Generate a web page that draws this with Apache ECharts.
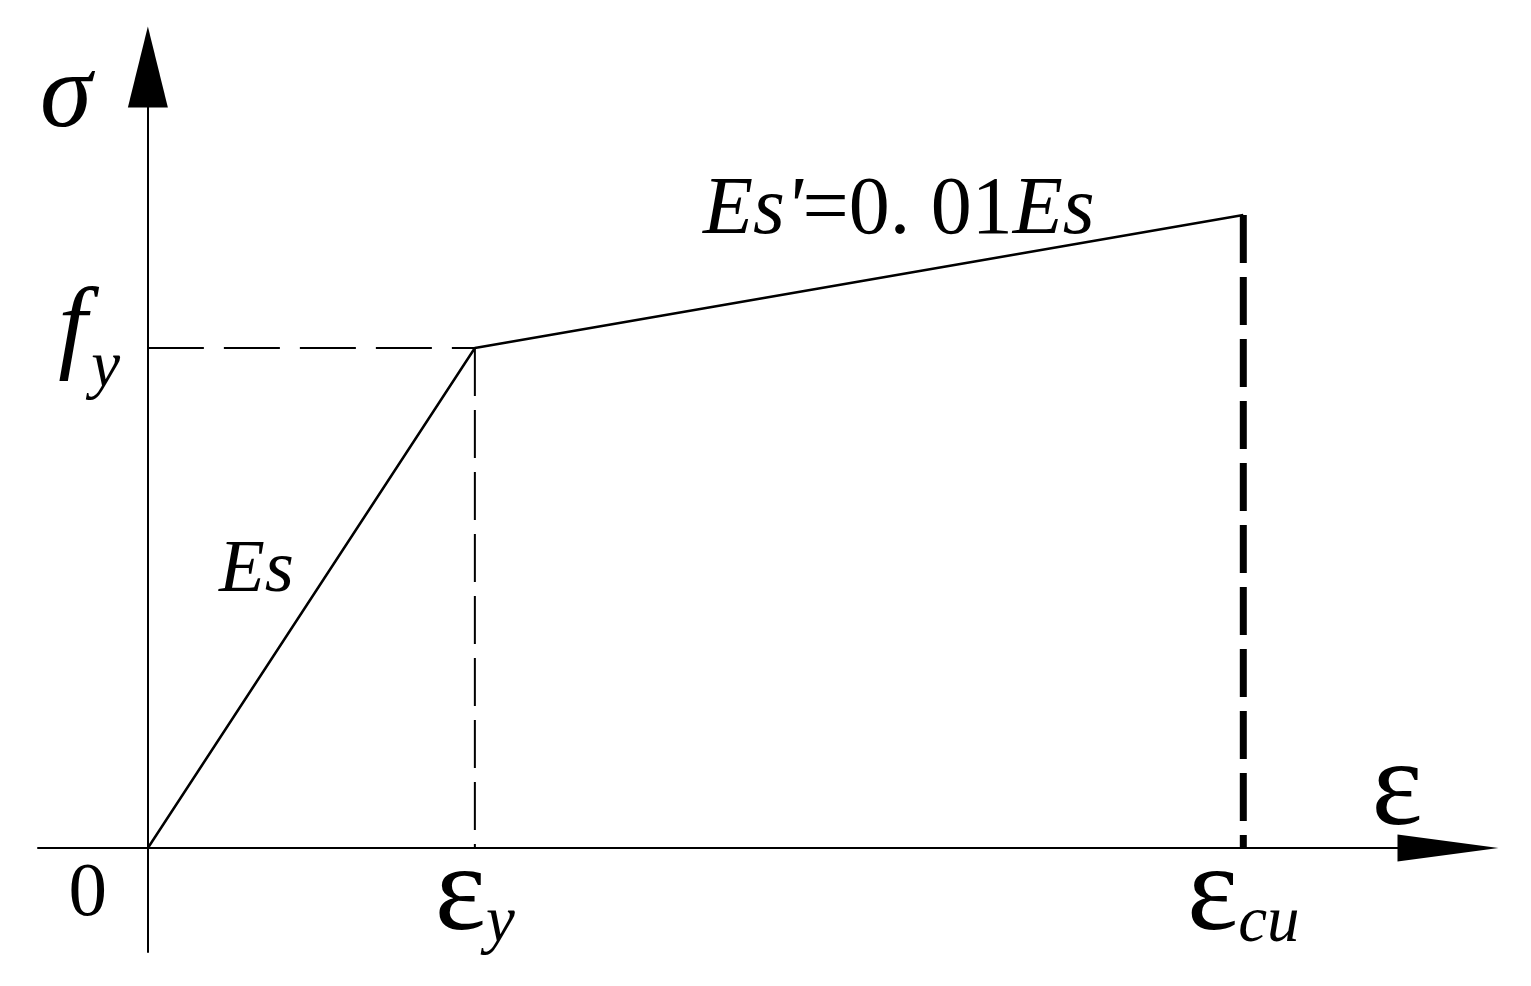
<!DOCTYPE html>
<html>
<head>
<meta charset="utf-8">
<script src="https://cdn.jsdelivr.net/npm/echarts@6/dist/echarts.min.js"></script>
<style>
  html, body { margin: 0; padding: 0; background: #fff; }
  #main { width: 1531px; height: 986px; }
</style>
</head>
<body>
<div id="main"></div>
<script>
// bilinear steel model, normalised units (eps_y = 1, fy = 1)
var strain = [0, 1.0, 3.35];
var stress = [0, 1.0, 1.266];

// tick labels: main symbol + subscript
var xTickMain = ['0', 'ε', 'ε'];
var xTickSub = ['', 'y', 'cu'];
var yTickValues = [stress[1]];
var yTickMain = ['f'];
var yTickSub = ['y'];

var serif = '"Liberation Serif", "Times New Roman", serif';

var myChart = echarts.init(document.getElementById('main'));

function pts(list) {
    return list.map(function (i) { return [strain[i], stress[i]]; });
}

var option = {
    backgroundColor: '#fff',
    animation: false,
    grid: {
        left: 38, right: 83, top: 67, bottom: 34,
        containLabel: false,
        outerBoundsMode: 'none'
    },
    xAxis: {
        type: 'value',
        min: -0.336, max: 3.976,
        splitLine: { show: false },
        axisTick: { show: false },
        axisLine: {
            onZero: true,
            lineStyle: { color: '#000', width: 2 },
            symbol: ['none', 'triangle'],
            symbolSize: [27, 101]
        },
        axisLabel: {
            customValues: strain,
            margin: -87,
            color: '#000',
            formatter: function (v) {
                var i = strain.indexOf(v);
                if (i < 0) return '';
                if (!xTickSub[i]) return '{z|' + xTickMain[i] + '}';
                return '{e|' + xTickMain[i] + '}{s|' + xTickSub[i] + '}';
            },
            rich: {
                z: { fontFamily: serif, fontSize: 77, lineHeight: 60, color: '#000', padding: [0, 120, 0, 0] },
                e: { fontFamily: serif, fontSize: 122, lineHeight: 60, color: '#000', padding: [4, 0, 0, 0] },
                s: { fontFamily: serif, fontSize: 65, fontStyle: 'italic', lineHeight: 60, color: '#000', padding: [58, 0, 0, 0] }
            }
        }
    },
    yAxis: {
        type: 'value',
        min: -0.208, max: 1.562,
        splitLine: { show: false },
        axisTick: { show: false },
        axisLine: {
            onZero: true,
            lineStyle: { color: '#000', width: 2 },
            symbol: ['none', 'triangle'],
            symbolSize: [40, 81]
        },
        axisLabel: {
            customValues: yTickValues,
            margin: -82,
            color: '#000',
            formatter: function (v) {
                var i = yTickValues.indexOf(v);
                if (i < 0) return '';
                return '{f|' + yTickMain[i] + '}{s|' + yTickSub[i] + '}';
            },
            rich: {
                f: { fontFamily: serif, fontSize: 104, fontStyle: 'italic', lineHeight: 60, color: '#000', padding: [0, 4, 32, 0] },
                s: { fontFamily: serif, fontSize: 65, fontStyle: 'italic', lineHeight: 60, color: '#000', padding: [42, 0, 0, 0] }
            }
        }
    },
    series: [
        {
            // fy level, dashed
            type: 'line', silent: true, symbol: 'none',
            data: [[0, stress[1]], [strain[1], stress[1]]],
            lineStyle: { color: '#000', width: 2, type: [56, 20] }
        },
        {
            // eps_y drop line
            type: 'line', silent: true, symbol: 'none',
            data: [[strain[1], stress[1]], [strain[1], 0]],
            lineStyle: { color: '#000', width: 2, type: [48, 14] }
        },
        {
            // eps_cu drop line, heavy
            type: 'line', silent: true, symbol: 'none',
            data: [[strain[2], stress[2]], [strain[2], 0]],
            lineStyle: { color: '#000', width: 7, type: [48, 14] }
        },
        {
            type: 'line', silent: true, symbol: 'none',
            data: pts([0, 1, 2]),
            lineStyle: { color: '#000', width: 2.5 }
        }
    ],
    graphic: [
        {
            type: 'text', x: 66, y: 98,
            style: { text: 'σ', fontFamily: serif, fontSize: 105, fontStyle: 'italic', fill: '#000',
                     align: 'center', verticalAlign: 'middle', textAlign: 'center', textVerticalAlign: 'middle' }
        },
        {
            type: 'text', x: 1397, y: 792,
            style: { text: 'ε', fontFamily: serif, fontSize: 122, fill: '#000',
                     align: 'center', verticalAlign: 'middle', textAlign: 'center', textVerticalAlign: 'middle' }
        },
        {
            type: 'text', x: 219, y: 571,
            style: { text: 'Es', fontFamily: serif, fontSize: 75, fontStyle: 'italic', fill: '#000',
                     align: 'left', verticalAlign: 'middle', textAlign: 'left', textVerticalAlign: 'middle' }
        },
        {
            type: 'text', x: 703, y: 211,
            style: {
                text: "{i|Es'}{r|=0. 01}{i|Es}",
                fill: '#000',
                align: 'left', verticalAlign: 'middle', textAlign: 'left', textVerticalAlign: 'middle',
                rich: {
                    i: { fontFamily: serif, fontSize: 82, fontStyle: 'italic', fill: '#000' },
                    r: { fontFamily: serif, fontSize: 82, fill: '#000' }
                }
            }
        }
    ]
};

myChart.setOption(option);
</script>
</body>
</html>
